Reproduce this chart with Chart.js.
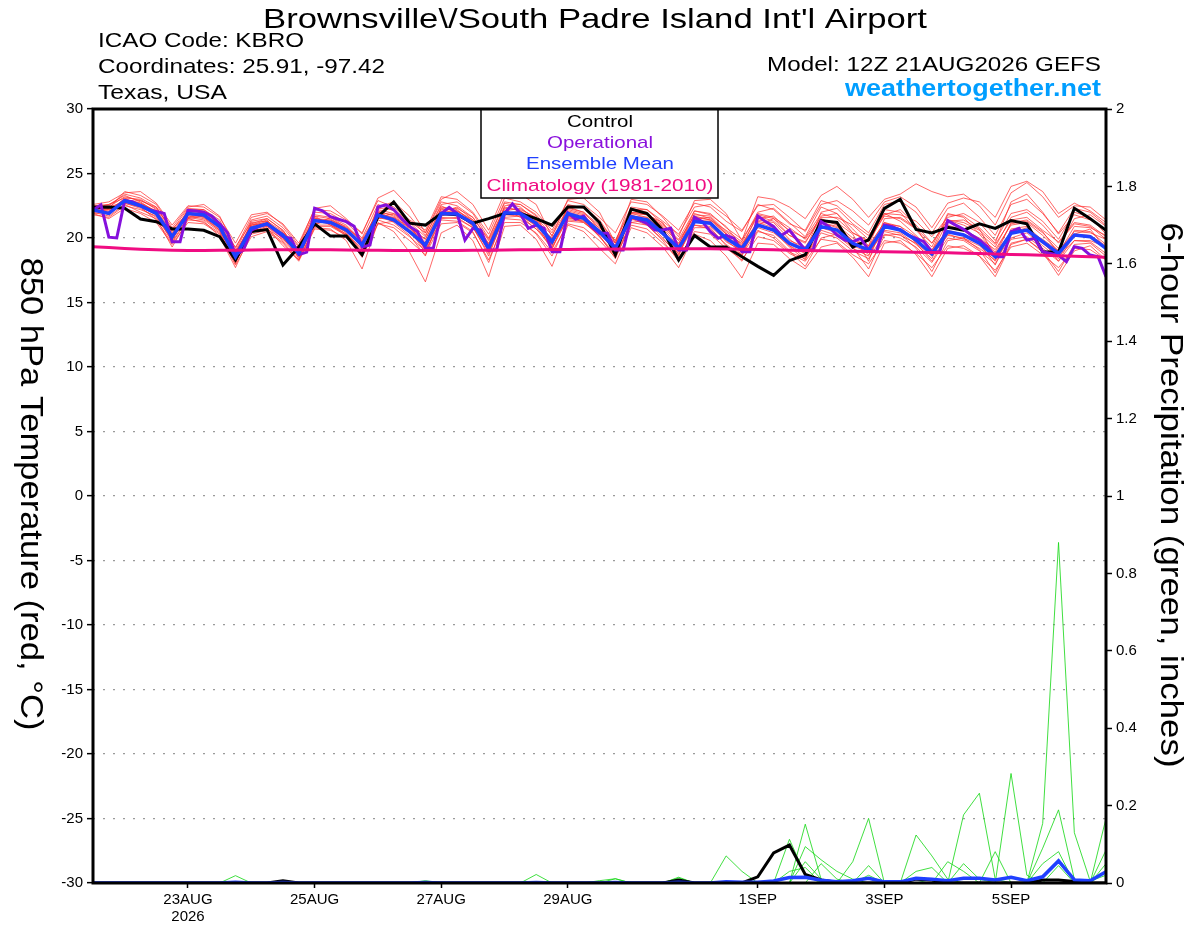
<!DOCTYPE html>
<html>
<head>
<meta charset="utf-8">
<title>KBRO GEFS meteogram</title>
<script src="https://cdn.jsdelivr.net/npm/chart.js@4.4.1/dist/chart.umd.min.js"></script>
<style>
  html, body { margin: 0; padding: 0; background: #fff; }
  canvas { display: block; background: #fff; }
</style>
</head>
<body>
<canvas id="meteogram" width="1200" height="927"></canvas>
<script>
// x axis: forecast hour from 12Z 21AUG2026
const tickHours = [36, 84, 132, 180, 252, 300, 348];
const tickLabels = [['23AUG', '2026'], '25AUG', '27AUG', '29AUG', '1SEP', '3SEP', '5SEP'];

// 850 hPa temperature (C), 6-hourly
const controlTemp = [
  22.38, 22.4, 22.3, 21.47, 21.26, 20.7, 20.7, 20.6, 20.1, 18.3, 20.5, 20.65, 17.9,
  19.3, 21.1, 20.15, 20.15, 18.7, 21.65, 22.8, 21.15, 21.0, 21.9, 21.8, 21.15, 21.5,
  21.9, 21.9, 21.5, 21.0, 22.4, 22.4, 21.2, 18.7, 22.25, 21.9, 20.6, 18.3, 20.2,
  19.3, 19.3, 18.55, 17.8, 17.1, 18.24, 18.7, 21.35, 21.2, 19.3, 19.85, 22.3, 23.0,
  20.67, 20.4, 20.83, 20.6, 21.1, 20.75, 21.35, 21.1, 18.94, 18.9, 22.3, 21.5, 20.6
];
const meanTemp = [
  22.17, 21.91, 22.89, 22.5, 21.9, 20.1, 21.9, 21.78, 20.88, 18.55, 20.75, 21.1, 20.23,
  18.81, 21.35, 21.2, 20.62, 19.46, 21.78, 21.4, 20.49, 19.46, 21.9, 21.86, 21.14, 19.2,
  21.95, 21.9, 21.14, 19.71, 21.9, 21.52, 20.49, 19.2, 21.65, 21.4, 20.36, 19.2, 21.27,
  21.14, 19.97, 19.2, 21.0, 20.62, 19.59, 19.07, 20.88, 20.62, 19.59, 19.07, 20.88, 20.62,
  19.84, 18.76, 20.49, 20.23, 19.59, 18.55, 20.36, 20.62, 19.71, 18.81, 20.23, 20.1, 19.2
];
const climoTemp = [
  19.33, 19.26, 19.19, 19.13, 19.08, 19.05, 19.04, 19.04, 19.05, 19.06, 19.07, 19.08, 19.08,
  19.09, 19.09, 19.08, 19.07, 19.06, 19.05, 19.04, 19.03, 19.03, 19.03, 19.04, 19.05, 19.06,
  19.07, 19.08, 19.09, 19.1, 19.11, 19.12, 19.13, 19.14, 19.15, 19.16, 19.17, 19.17, 19.17,
  19.16, 19.14, 19.12, 19.1, 19.08, 19.06, 19.04, 19.02, 19.0, 18.98, 18.96, 18.94, 18.92,
  18.9, 18.88, 18.85, 18.82, 18.79, 18.76, 18.73, 18.7, 18.66, 18.62, 18.58, 18.54, 18.5
];
// operational run, 3-hourly
const operTemp = [
  22.17, 22.56, 20.06, 20.0, 22.89, 22.82, 22.5, 22.2, 22.05, 21.9, 19.7, 19.7, 22.15,
  22.1, 22.0, 21.7, 21.1, 20.4, 18.7, 19.05, 20.6, 20.9, 21.1, 20.6, 20.1, 19.97,
  18.7, 18.9, 22.3, 22.1, 21.65, 21.45, 21.27, 20.9, 19.3, 19.45, 22.4, 22.56, 22.2,
  21.5, 20.9, 20.5, 19.2, 19.2, 21.9, 22.38, 21.9, 19.84, 20.75, 20.62, 19.07, 19.07,
  21.9, 22.64, 21.9, 20.75, 21.0, 20.75, 18.94, 18.94, 21.95, 21.45, 21.7, 20.88, 20.36,
  20.36, 19.07, 19.07, 21.65, 21.4, 21.14, 20.62, 20.62, 20.75, 19.07, 19.07, 21.6, 21.27,
  20.49, 19.97, 20.2, 19.97, 18.94, 18.94, 21.7, 21.27, 20.88, 20.2, 20.62, 19.84, 19.07,
  19.07, 21.27, 20.88, 20.23, 19.84, 19.71, 19.97, 19.07, 18.94, 21.0, 20.88, 20.62, 20.23,
  19.97, 19.71, 18.94, 18.94, 21.35, 21.0, 20.67, 20.23, 19.84, 19.33, 18.55, 18.55, 20.49,
  20.75, 19.84, 19.97, 18.94, 18.81, 18.68, 18.16, 19.33, 19.2, 18.68, 18.55, 17.0
];
// ensemble members (red)
const memberTemps = [
  [22.4, 22.5, 23.4, 23.1, 22.4, 20.6, 22.3, 22.2, 21.4, 19.0, 21.4, 21.7, 20.8,
   19.3, 22.0, 21.9, 21.2, 20.0, 22.6, 22.1, 21.2, 20.1, 22.6, 22.8, 21.9, 20.0,
   22.8, 22.6, 21.8, 20.4, 22.6, 22.3, 21.2, 19.8, 22.4, 22.2, 21.1, 19.9, 22.1,
   21.9, 20.8, 19.9, 21.8, 21.5, 20.6, 20.0, 21.9, 21.5, 20.4, 19.8, 21.7, 21.5,
   20.7, 19.6, 21.4, 21.2, 20.6, 19.5, 21.4, 21.6, 20.6, 19.7, 21.2, 21.0, 20.1],
  [21.9, 21.5, 22.3, 21.9, 21.2, 19.5, 21.2, 21.1, 20.3, 17.9, 20.1, 20.5, 19.6,
   18.2, 20.7, 20.6, 20.0, 18.8, 21.1, 20.8, 19.8, 18.7, 21.1, 21.2, 20.4, 18.3,
   21.2, 21.2, 20.4, 18.9, 21.1, 20.8, 19.8, 18.5, 21.0, 20.7, 19.6, 18.4, 20.5,
   20.3, 19.2, 18.3, 20.1, 19.8, 18.8, 18.2, 19.9, 19.7, 18.7, 18.0, 19.8, 19.6,
   18.8, 17.7, 19.4, 19.2, 18.6, 17.5, 19.3, 19.6, 18.7, 17.7, 19.2, 19.1, 18.3],
  [22.6, 22.8, 23.5, 23.6, 22.7, 21.0, 22.5, 22.4, 21.6, 19.6, 21.8, 22.0, 21.0,
   19.4, 22.3, 22.5, 21.5, 20.3, 23.1, 23.7, 22.4, 20.4, 23.0, 23.6, 22.6, 20.6,
   23.5, 23.4, 22.6, 20.1, 23.0, 23.1, 22.0, 19.6, 23.0, 22.8, 21.6, 20.1, 22.9,
   23.0, 21.9, 19.8, 23.2, 23.0, 22.4, 21.5, 23.3, 24.0, 23.0, 21.6, 23.0, 23.4,
   24.2, 23.6, 23.2, 23.4, 22.5, 21.0, 23.5, 24.3, 23.2, 21.6, 22.5, 22.4, 21.4],
  [22.0, 21.7, 22.6, 22.0, 21.5, 19.3, 21.4, 21.3, 20.1, 17.7, 20.4, 20.8, 19.4,
   18.3, 20.8, 20.7, 19.8, 17.6, 21.2, 20.5, 18.9, 16.6, 20.4, 21.0, 19.8, 17.0,
   20.9, 21.0, 19.9, 17.8, 21.0, 20.5, 19.2, 18.0, 20.8, 20.4, 19.3, 17.7, 20.3,
   19.8, 18.6, 16.9, 19.6, 19.5, 18.4, 17.6, 19.3, 19.6, 18.5, 17.0, 19.6, 19.8,
   18.7, 17.0, 19.2, 19.4, 18.6, 17.0, 19.5, 19.9, 18.9, 17.1, 19.0, 19.4, 18.3],
  [22.3, 22.0, 23.1, 23.0, 22.2, 20.4, 21.7, 21.5, 20.6, 18.4, 20.9, 21.3, 20.5,
   19.1, 21.6, 21.0, 20.3, 19.2, 22.0, 21.8, 20.9, 19.9, 22.3, 22.1, 21.3, 19.6,
   22.4, 22.1, 21.4, 19.9, 22.2, 21.9, 20.9, 19.4, 22.0, 21.8, 20.9, 19.6, 21.8,
   21.7, 20.5, 19.5, 21.7, 21.3, 20.2, 19.6, 21.7, 21.9, 20.4, 19.7, 21.8, 22.2,
   21.0, 19.6, 21.4, 21.0, 20.4, 19.3, 21.6, 22.0, 21.0, 19.6, 21.1, 20.9, 19.9],
  [22.1, 22.2, 22.7, 22.3, 21.6, 19.8, 22.1, 22.0, 21.1, 18.9, 21.0, 21.4, 20.0,
   18.5, 21.2, 21.4, 20.9, 19.7, 21.4, 21.0, 20.1, 19.0, 21.5, 21.6, 20.8, 18.8,
   21.6, 21.7, 20.7, 19.3, 21.6, 21.3, 20.1, 18.8, 21.5, 21.0, 19.9, 18.8, 21.0,
   20.7, 19.5, 18.7, 20.6, 20.0, 18.9, 18.4, 20.4, 20.0, 19.0, 18.4, 20.3, 20.0,
   19.3, 18.1, 20.0, 19.8, 19.0, 18.0, 19.9, 20.1, 19.2, 18.2, 19.8, 19.7, 18.8],
  [22.5, 22.6, 23.3, 22.8, 22.0, 20.0, 21.5, 21.2, 20.4, 18.1, 20.5, 20.9, 19.8,
   18.6, 21.0, 21.0, 20.5, 19.3, 22.3, 22.2, 21.3, 20.4, 22.8, 22.5, 21.6, 19.9,
   22.7, 22.4, 21.3, 19.4, 22.4, 22.0, 20.7, 19.1, 22.3, 22.0, 20.8, 19.3, 21.9,
   21.5, 20.3, 18.8, 21.4, 21.2, 19.9, 19.0, 22.0, 22.3, 21.1, 20.2, 21.9, 21.3,
   20.2, 19.0, 21.8, 21.7, 20.8, 19.6, 22.8, 23.4, 22.0, 20.3, 21.8, 21.4, 20.6],
  [21.8, 21.6, 22.5, 22.2, 21.7, 19.9, 21.8, 21.6, 20.7, 18.4, 20.6, 20.7, 19.9,
   18.9, 21.5, 21.3, 20.4, 18.9, 21.5, 21.6, 20.7, 19.6, 22.0, 21.9, 20.9, 18.6,
   21.8, 21.7, 21.0, 20.0, 21.7, 21.2, 20.3, 19.0, 21.4, 21.5, 20.6, 18.9, 21.2,
   21.3, 20.1, 19.4, 21.3, 21.0, 19.4, 18.5, 20.6, 20.2, 19.2, 18.6, 21.1, 20.9,
   19.6, 18.2, 20.3, 19.9, 19.2, 18.3, 20.0, 20.4, 19.4, 18.4, 20.6, 20.5, 19.5],
  [22.2, 22.1, 23.0, 22.6, 22.1, 20.3, 22.0, 21.9, 21.0, 18.8, 21.1, 21.5, 20.6,
   19.0, 21.8, 21.6, 20.8, 19.7, 22.1, 21.7, 20.8, 19.9, 22.2, 22.3, 21.6, 19.8,
   22.3, 22.2, 21.6, 20.2, 22.3, 22.0, 21.0, 19.8, 22.2, 22.2, 21.3, 20.3, 22.4,
   22.6, 21.7, 20.6, 22.5, 22.6, 21.6, 20.5, 22.6, 22.9, 22.1, 21.0, 22.8, 23.2,
   22.4, 20.8, 22.7, 23.1, 22.8, 21.6, 24.0, 24.4, 23.6, 21.9, 22.7, 22.1, 21.2],
  [22.0, 22.3, 22.8, 22.4, 21.8, 20.2, 21.6, 21.4, 20.5, 18.0, 20.7, 21.2, 20.3,
   18.4, 21.3, 21.1, 20.3, 19.1, 21.9, 21.2, 20.2, 18.6, 22.1, 22.0, 21.1, 19.0,
   22.0, 21.8, 20.9, 19.1, 22.0, 21.7, 20.6, 19.4, 21.8, 21.3, 20.0, 18.6, 21.5,
   21.1, 19.7, 19.0, 21.1, 20.5, 19.3, 18.3, 21.2, 20.9, 19.8, 18.7, 20.6, 20.4,
   19.5, 18.4, 21.0, 20.6, 19.6, 17.9, 20.7, 20.9, 19.8, 18.2, 20.3, 20.7, 19.1],
  [22.4, 22.4, 23.2, 22.9, 22.3, 20.7, 21.9, 21.7, 20.9, 19.3, 21.2, 21.3, 20.1,
   19.2, 21.7, 21.5, 20.7, 19.4, 22.4, 22.8, 21.7, 20.2, 22.5, 21.9, 21.0, 19.5,
   22.1, 22.3, 21.5, 19.8, 21.8, 21.6, 20.8, 19.6, 22.0, 21.9, 21.0, 19.8, 21.7,
   21.4, 20.6, 19.7, 22.0, 22.3, 21.2, 20.1, 22.4, 21.9, 20.7, 19.4, 22.2, 22.0,
   20.6, 19.3, 21.9, 21.6, 20.3, 18.9, 21.1, 21.3, 20.4, 19.2, 21.5, 21.8, 20.9],
  [22.3, 21.8, 22.9, 22.7, 22.0, 20.1, 22.2, 22.2, 21.2, 18.6, 21.1, 21.0, 20.4,
   19.0, 21.1, 21.3, 20.8, 19.9, 22.0, 21.5, 20.5, 19.3, 21.7, 22.1, 21.4, 19.5,
   22.2, 21.6, 20.7, 19.6, 21.4, 21.3, 20.4, 19.2, 21.6, 21.1, 20.3, 19.4, 21.6,
   21.4, 20.3, 19.6, 21.0, 21.5, 20.2, 19.7, 21.5, 21.0, 20.0, 19.3, 21.2, 20.7,
   19.9, 18.8, 20.8, 20.6, 20.0, 19.1, 21.0, 21.2, 20.2, 19.0, 20.5, 20.4, 19.9],
  [22.2, 22.4, 22.8, 22.6, 22.0, 19.9, 21.9, 21.9, 20.8, 18.5, 20.8, 20.9, 20.0,
   18.8, 21.3, 21.2, 20.6, 19.5, 21.6, 21.3, 20.4, 19.2, 22.0, 22.4, 21.4, 19.4,
   21.9, 22.0, 21.3, 19.5, 22.1, 21.8, 20.5, 18.9, 21.9, 21.6, 20.5, 19.1, 21.0,
   20.9, 19.8, 18.9, 20.8, 20.4, 19.4, 18.8, 20.8, 20.4, 19.4, 18.9, 20.5, 20.2,
   19.6, 18.6, 20.2, 20.0, 19.4, 18.2, 20.4, 20.8, 19.6, 18.6, 19.8, 19.8, 19.3],
  [22.4, 22.2, 23.0, 22.7, 22.1, 20.2, 22.2, 22.1, 21.0, 18.7, 21.0, 21.2, 20.4,
   19.1, 21.5, 21.4, 20.7, 19.6, 21.9, 21.6, 20.8, 19.7, 21.8, 21.8, 21.0, 19.3,
   21.9, 22.1, 21.2, 19.9, 21.7, 21.5, 20.6, 19.3, 21.7, 21.6, 20.5, 19.3, 21.4,
   21.3, 20.0, 19.2, 21.2, 20.8, 19.8, 19.3, 21.2, 20.8, 19.8, 19.4, 21.2, 20.9,
   20.1, 19.1, 20.6, 20.3, 19.8, 18.8, 20.5, 20.6, 19.9, 19.0, 20.3, 20.2, 19.4],
  [21.9, 22.0, 22.7, 22.4, 21.4, 19.6, 21.5, 21.7, 20.9, 18.2, 20.3, 20.6, 19.7,
   18.3, 20.9, 20.9, 20.2, 18.5, 21.1, 21.3, 20.6, 18.9, 21.4, 21.3, 20.5, 18.1,
   21.5, 21.4, 20.3, 18.6, 21.3, 21.2, 20.2, 18.4, 21.2, 21.0, 19.8, 18.2, 20.8,
   20.8, 19.4, 18.2, 20.5, 20.2, 19.0, 17.8, 20.0, 20.3, 19.3, 17.6, 20.2, 20.3,
   19.2, 17.4, 19.8, 20.0, 19.1, 17.3, 19.6, 19.9, 19.0, 17.4, 19.5, 19.6, 18.6],
  [22.5, 22.3, 23.6, 23.3, 22.6, 20.8, 22.4, 22.6, 21.7, 19.2, 21.6, 21.9, 21.1,
   19.6, 22.2, 22.1, 21.4, 20.4, 22.9, 22.4, 21.4, 20.6, 23.2, 23.0, 22.0, 20.3,
   23.1, 22.8, 22.0, 20.6, 22.9, 22.6, 21.6, 20.4, 22.8, 22.6, 21.7, 20.6, 22.7,
   22.4, 21.3, 20.5, 22.6, 22.2, 21.1, 20.6, 22.9, 22.5, 21.4, 20.4, 22.6, 22.9,
   22.0, 20.4, 22.3, 22.7, 21.6, 20.2, 22.6, 23.0, 21.9, 20.4, 22.3, 22.0, 21.0],
  [22.3, 22.6, 23.1, 22.5, 21.8, 19.7, 21.6, 21.8, 21.0, 18.9, 20.9, 21.0, 20.2,
   19.0, 21.0, 21.6, 21.0, 19.8, 21.6, 21.9, 21.1, 19.0, 22.4, 22.2, 21.2, 18.9,
   21.8, 22.0, 21.1, 19.2, 21.5, 21.4, 20.1, 18.6, 21.2, 21.4, 20.7, 18.7, 21.5,
   21.6, 20.4, 18.6, 21.5, 21.7, 20.5, 18.9, 21.4, 21.2, 20.3, 18.2, 21.5, 21.6,
   20.8, 18.9, 21.3, 21.4, 20.7, 18.6, 21.2, 21.4, 20.5, 18.8, 20.9, 20.8, 20.2],
  [22.1, 21.9, 22.8, 22.9, 22.4, 20.5, 22.0, 21.6, 20.6, 18.3, 21.3, 21.5, 20.6,
   18.7, 21.7, 21.0, 20.2, 18.7, 22.2, 21.9, 20.9, 19.4, 21.6, 21.5, 20.8, 19.1,
   22.5, 22.6, 21.7, 19.5, 22.5, 22.4, 21.4, 19.6, 21.9, 21.8, 21.2, 19.5, 22.1,
   21.8, 20.9, 19.3, 21.9, 21.6, 20.8, 19.9, 21.6, 21.6, 21.0, 19.9, 21.9, 21.8,
   21.3, 20.1, 21.6, 21.9, 21.2, 19.8, 21.9, 22.2, 21.3, 19.9, 22.0, 21.6, 20.3]
];

// 6-hour precipitation (inches), 6-hourly
const controlPrecip = [
  0, 0, 0, 0, 0, 0, 0, 0, 0, 0, 0, 0, 0.006,
  0, 0, 0, 0, 0, 0, 0, 0, 0, 0, 0, 0, 0,
  0, 0, 0, 0, 0, 0, 0, 0, 0, 0, 0, 0.008, 0,
  0, 0, 0, 0.016, 0.078, 0.098, 0.022, 0.008, 0.002, 0, 0, 0, 0,
  0.01, 0.008, 0, 0, 0, 0, 0, 0, 0.008, 0.008, 0.004, 0, 0
];
const meanPrecip = [
  0, 0, 0, 0, 0, 0, 0, 0, 0, 0.002, 0, 0, 0.001,
  0, 0, 0, 0, 0, 0, 0, 0, 0.001, 0, 0, 0, 0,
  0, 0, 0.001, 0, 0, 0, 0, 0.001, 0, 0, 0, 0.002, 0,
  0, 0.003, 0.002, 0.002, 0.005, 0.014, 0.015, 0.007, 0.003, 0.006, 0.012, 0.003, 0.003,
  0.012, 0.01, 0.006, 0.012, 0.012, 0.008, 0.015, 0.006, 0.016, 0.057, 0.008, 0.006, 0.029
];
const memberPrecips = [
  [0, 0, 0, 0, 0, 0, 0, 0, 0, 0.019, 0, 0, 0,
   0, 0, 0, 0, 0, 0, 0, 0, 0, 0, 0, 0, 0,
   0, 0, 0, 0, 0, 0, 0, 0, 0, 0, 0, 0, 0,
   0, 0.07, 0.03, 0, 0, 0, 0, 0, 0, 0, 0, 0, 0,
   0.124, 0.07, 0.01, 0, 0, 0, 0, 0, 0, 0, 0, 0, 0.05],
  [0, 0, 0, 0, 0, 0, 0, 0, 0, 0, 0, 0, 0,
   0, 0, 0, 0, 0, 0, 0, 0, 0, 0, 0, 0, 0,
   0, 0, 0.022, 0, 0, 0, 0, 0, 0, 0, 0, 0, 0,
   0, 0, 0, 0, 0, 0.113, 0.02, 0, 0, 0, 0, 0, 0,
   0, 0, 0, 0.176, 0.232, 0.01, 0, 0, 0, 0, 0, 0, 0],
  [0, 0, 0, 0, 0, 0, 0, 0, 0, 0, 0, 0, 0,
   0, 0, 0, 0, 0, 0, 0, 0, 0, 0, 0, 0, 0,
   0, 0, 0, 0, 0, 0, 0, 0.011, 0, 0, 0, 0, 0,
   0, 0, 0, 0, 0, 0, 0.152, 0.01, 0, 0, 0, 0, 0,
   0, 0, 0, 0, 0, 0, 0.283, 0.02, 0, 0, 0, 0, 0],
  [0, 0, 0, 0, 0, 0, 0, 0, 0, 0, 0, 0, 0,
   0, 0, 0, 0, 0, 0, 0, 0, 0.006, 0, 0, 0, 0,
   0, 0, 0, 0, 0, 0, 0, 0, 0, 0, 0, 0, 0,
   0, 0, 0, 0, 0, 0, 0.094, 0.06, 0.03, 0.01, 0, 0, 0,
   0, 0, 0, 0, 0, 0, 0, 0, 0.154, 0.88, 0.13, 0.005, 0.02],
  [0, 0, 0, 0, 0, 0, 0, 0, 0, 0, 0, 0, 0,
   0, 0, 0, 0, 0, 0, 0, 0, 0, 0, 0, 0, 0,
   0, 0, 0, 0, 0, 0, 0, 0, 0, 0, 0, 0.013, 0,
   0, 0, 0, 0, 0, 0, 0.055, 0.01, 0, 0.055, 0.167, 0, 0,
   0, 0, 0, 0, 0, 0, 0, 0, 0.09, 0.189, 0.01, 0, 0.167],
  [0, 0, 0, 0, 0, 0, 0, 0, 0, 0, 0, 0, 0,
   0, 0, 0, 0, 0, 0, 0, 0, 0, 0, 0, 0, 0,
   0, 0, 0, 0, 0, 0, 0.006, 0.011, 0, 0, 0, 0, 0,
   0, 0, 0, 0, 0, 0, 0, 0, 0, 0, 0.045, 0, 0,
   0.03, 0.04, 0, 0, 0, 0, 0, 0, 0, 0, 0, 0, 0],
  [0, 0, 0, 0, 0, 0, 0, 0, 0, 0, 0, 0, 0,
   0, 0, 0, 0, 0, 0, 0, 0, 0, 0, 0, 0, 0,
   0, 0, 0, 0, 0, 0, 0, 0, 0, 0, 0, 0, 0,
   0, 0, 0, 0, 0, 0, 0, 0, 0, 0, 0, 0, 0,
   0, 0, 0.055, 0.03, 0, 0.081, 0, 0, 0.05, 0.081, 0, 0, 0.085],
  [0, 0, 0, 0, 0, 0, 0, 0, 0, 0, 0, 0, 0,
   0, 0, 0, 0, 0, 0, 0, 0, 0, 0, 0, 0, 0,
   0, 0, 0, 0, 0, 0, 0, 0, 0, 0, 0, 0, 0,
   0, 0, 0, 0, 0, 0, 0, 0.05, 0.01, 0, 0, 0, 0,
   0, 0.01, 0, 0.05, 0.01, 0, 0, 0, 0, 0.045, 0, 0, 0.03],
  [0, 0, 0, 0, 0, 0, 0, 0, 0, 0, 0, 0, 0,
   0, 0, 0, 0, 0, 0, 0, 0, 0, 0, 0, 0, 0,
   0, 0, 0, 0, 0, 0, 0, 0, 0, 0, 0, 0.015, 0,
   0, 0, 0, 0, 0, 0.03, 0.04, 0, 0, 0, 0.02, 0, 0,
   0, 0, 0, 0, 0, 0, 0, 0, 0, 0, 0, 0, 0]
];

const FONT = "'Liberation Sans', Arial, Helvetica, sans-serif";

const on6h = vals => vals.map((v, i) => ({ x: i * 6, y: v }));
const on3h = vals => vals.map((v, i) => ({ x: i * 3, y: v }));

const datasets = [];
memberTemps.forEach(m => datasets.push({
  data: on6h(m), yAxisID: 'y', borderColor: 'rgba(255,45,45,0.72)', borderWidth: 1, order: 20
}));
memberPrecips.forEach(m => datasets.push({
  data: on6h(m), yAxisID: 'y2', borderColor: 'rgba(20,215,20,0.9)', borderWidth: 0.9, order: 20
}));
datasets.push({ data: on6h(controlTemp), yAxisID: 'y', borderColor: '#000', borderWidth: 3, order: 5 });
datasets.push({ data: on3h(operTemp), yAxisID: 'y', borderColor: '#8510dc', borderWidth: 3, order: 4 });
datasets.push({ data: on6h(meanTemp), yAxisID: 'y', borderColor: '#2040ff', borderWidth: 3.5, order: 3 });
datasets.push({ data: on6h(climoTemp), yAxisID: 'y', borderColor: '#f00c82', borderWidth: 3, order: 2 });
datasets.push({ data: on6h(controlPrecip), yAxisID: 'y2', borderColor: '#000', borderWidth: 3, order: 5 });
datasets.push({ data: on6h(meanPrecip), yAxisID: 'y2', borderColor: '#2040ff', borderWidth: 3.5, order: 3 });

// squeeze text to the width it has in the original
function fitText(ctx, txt, x, y, font, w, align, color) {
  ctx.save();
  ctx.font = font;
  ctx.fillStyle = color;
  ctx.textBaseline = 'alphabetic';
  ctx.textAlign = align;
  const s = w / ctx.measureText(txt).width;
  ctx.translate(x, y);
  ctx.scale(s, 1);
  ctx.fillText(txt, 0, 0);
  ctx.restore();
}
function fitTextDown(ctx, txt, xBase, yMid, font, w, color) {
  ctx.save();
  ctx.font = font;
  ctx.fillStyle = color;
  ctx.textBaseline = 'alphabetic';
  ctx.textAlign = 'center';
  const s = w / ctx.measureText(txt).width;
  ctx.translate(xBase, yMid);
  ctx.rotate(Math.PI / 2);
  ctx.scale(s, 1);
  ctx.fillText(txt, 0, 0);
  ctx.restore();
}

const decor = {
  id: 'decor',
  afterDatasetsDraw(chart) {
    const { ctx, chartArea: a } = chart;
    ctx.save();
    // legend box
    ctx.fillStyle = '#fff';
    ctx.fillRect(481, a.top, 237, 89);
    ctx.strokeStyle = '#000';
    ctx.lineWidth = 1.5;
    ctx.strokeRect(481, a.top, 237, 89);
    ctx.restore();
    fitText(ctx, 'Control', 600, 127, '17px ' + FONT, 66, 'center', '#000');
    fitText(ctx, 'Operational', 600, 147.5, '17px ' + FONT, 106, 'center', '#8a10dc');
    fitText(ctx, 'Ensemble Mean', 600, 169, '17px ' + FONT, 148, 'center', '#2040ff');
    fitText(ctx, 'Climatology (1981-2010)', 600, 190.5, '17px ' + FONT, 227, 'center', '#f00c82');
    // plot frame
    ctx.save();
    ctx.strokeStyle = '#000';
    ctx.lineWidth = 3;
    ctx.strokeRect(a.left, a.top, a.right - a.left, a.bottom - a.top);
    ctx.restore();
  },
  afterDraw(chart) {
    const ctx = chart.ctx;
    fitText(ctx, "Brownsville\\/South Padre Island Int'l Airport", 595, 28, '28px ' + FONT, 664, 'center', '#000');
    fitText(ctx, 'ICAO Code: KBRO', 98, 47, '21px ' + FONT, 206, 'left', '#000');
    fitText(ctx, 'Coordinates: 25.91, -97.42', 98, 73, '21px ' + FONT, 287, 'left', '#000');
    fitText(ctx, 'Texas, USA', 98, 99, '21px ' + FONT, 129, 'left', '#000');
    fitText(ctx, 'Model: 12Z 21AUG2026 GEFS', 1101, 71, '21px ' + FONT, 334, 'right', '#000');
    fitText(ctx, 'weathertogether.net', 1101, 96, 'bold 23px ' + FONT, 256, 'right', '#009eff');
    fitTextDown(ctx, '850 hPa Temperature (red, \u00B0C)', 21, 494, '31px ' + FONT, 473, '#000');
    fitTextDown(ctx, '6-hour Precipitation (green, inches)', 1161, 495, '31px ' + FONT, 545, '#000');
  }
};

const tickFont = { family: FONT, size: 15, lineHeight: 1.15 };

new Chart(document.getElementById('meteogram').getContext('2d'), {
  type: 'line',
  data: { datasets },
  options: {
    responsive: false,
    animation: false,
    devicePixelRatio: 1,
    layout: { padding: { top: 109, left: 0, right: 0, bottom: 0 } },
    elements: { point: { radius: 0 }, line: { tension: 0 } },
    plugins: { legend: { display: false }, tooltip: { enabled: false } },
    scales: {
      x: {
        type: 'linear', min: 0, max: 384,
        afterBuildTicks: s => { s.ticks = tickHours.map(v => ({ value: v })); },
        afterFit: s => { s.height = 44; },
        grid: { drawOnChartArea: false, tickLength: 5, tickColor: '#000', tickWidth: 1.5 },
        border: { display: false },
        ticks: {
          autoSkip: false, maxRotation: 0, padding: 3, color: '#000', font: tickFont,
          callback: (v, i) => tickLabels[i]
        }
      },
      y: {
        position: 'left', min: -30, max: 30,
        afterFit: s => { s.width = 93; },
        grid: { color: '#9a9a9a', lineWidth: 1.3, tickLength: 6, tickColor: '#000', tickWidth: 1.5, borderDash: [2, 8] },
        border: { display: false, dash: [2, 8] },
        ticks: { stepSize: 5, padding: 4, color: '#000', font: tickFont, callback: v => String(v) }
      },
      y2: {
        position: 'right', min: 0, max: 2,
        afterFit: s => { s.width = 94; },
        grid: { drawOnChartArea: false, tickLength: 6, tickColor: '#000', tickWidth: 1.5 },
        border: { display: false },
        ticks: { stepSize: 0.2, padding: 4, color: '#000', font: tickFont, callback: v => String(Math.round(v * 10) / 10) }
      }
    }
  },
  plugins: [decor]
});
</script>
</body>
</html>
